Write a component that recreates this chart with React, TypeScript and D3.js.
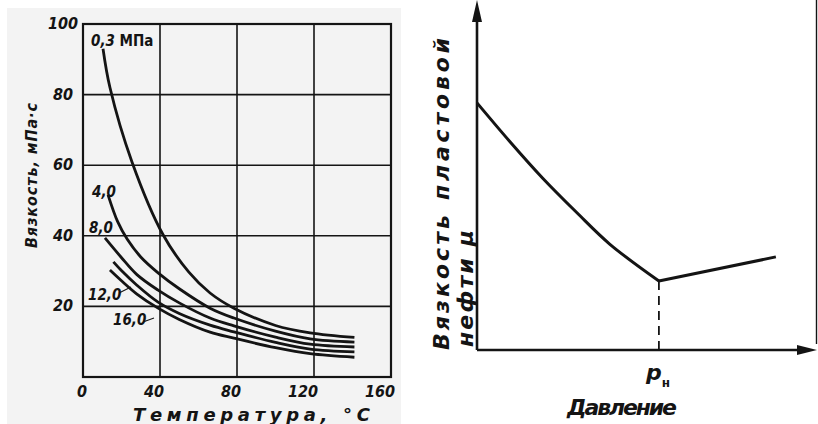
import React from 'react';
import * as d3 from 'd3';

// left chart: viscosity vs temperature at several pressures
const tempTicks = [0, 40, 80, 120, 160];
const viscTicks = [0, 20, 40, 60, 80, 100];

const t03 = [10.4, 14, 25.4, 41.6, 55, 66, 78.4, 100, 118, 141];
const v03 = [93, 82, 61, 40.3, 29.7, 23.8, 19.5, 14.6, 12.5, 11.2];
const t40 = [13, 18, 23, 30, 39, 50, 66, 78.4, 100, 118, 141];
const v40 = [51.6, 44, 39, 34, 29.5, 25, 19.5, 16.7, 13, 10.8, 9.9];
const t80 = [11.4, 19.7, 28, 39, 50, 66, 78.4, 100, 118, 141];
const v80 = [39.4, 34, 29, 24.6, 21, 16.7, 14.5, 11.3, 9.3, 8.5];
const t120 = [15.8, 19.7, 28, 39, 50, 66, 78.4, 100, 118, 141];
const v120 = [32.6, 30.3, 26, 21.2, 18, 14.7, 12.8, 9.8, 7.9, 7.1];
const t160 = [14, 19.7, 28, 39, 50, 66, 78.4, 100, 118, 141];
const v160 = [30.3, 27.4, 23.5, 19.5, 16.3, 12.7, 11, 8.3, 6.6, 5.6];

const series = [
  { name: '0,3', t: t03, v: v03 },
  { name: '4,0', t: t40, v: v40 },
  { name: '8,0', t: t80, v: v80 },
  { name: '12,0', t: t120, v: v120 },
  { name: '16,0', t: t160, v: v160 },
];

// right chart: schematic viscosity vs pressure
const pBelow = [0, 0.97, 1.94, 2.94, 3.91, 5.35];
const muBelow = [7.06, 5.95, 4.9, 3.92, 3.02, 1.97];
const pAbove = [5.35, 8.79];
const muAbove = [1.97, 2.66];
const pSat = 5.35;

const font = '"DejaVu Sans Condensed", "DejaVu Sans", sans-serif';
const wideFont = '"DejaVu Sans", sans-serif';
const ink = '#141414';

export default function App() {
  const x = d3.scaleLinear().domain([0, 160]).range([83, 391]);
  const y = d3.scaleLinear().domain([0, 100]).range([377, 24]);

  const line = d3.line<[number, number]>()
    .x(d => x(d[0]))
    .y(d => y(d[1]))
    .curve(d3.curveCatmullRom.alpha(0.5));

  const xR = d3.scaleLinear().domain([0, 10]).range([477, 817]);
  const yR = d3.scaleLinear().domain([0, 10]).range([350, 0]);
  const lineR = d3.line<[number, number]>()
    .x(d => xR(d[0]))
    .y(d => yR(d[1]))
    .curve(d3.curveCatmullRom.alpha(0.5));

  const lbl = { fontFamily: font, fontStyle: 'italic', fontWeight: 'bold', fill: ink } as const;
  const big = { ...lbl, fontFamily: wideFont };

  return (
    <svg width={818} height={424} style={{ position: 'absolute', left: 0, top: 0, background: '#fff' }}>
      <rect x={7} y={8} width={394} height={416} fill="#f3f3f3" />

      {/* grid */}
      {tempTicks.slice(1, -1).map(t => (
        <line key={'gx' + t} x1={x(t)} x2={x(t)} y1={y(0)} y2={y(100)} stroke={ink} strokeWidth={1.6} />
      ))}
      {viscTicks.slice(1, -1).map(v => (
        <line key={'gy' + v} x1={x(0)} x2={x(160)} y1={y(v)} y2={y(v)} stroke={ink} strokeWidth={1.6} />
      ))}
      <rect x={x(0)} y={y(100)} width={x(160) - x(0)} height={y(0) - y(100)} fill="none" stroke={ink} strokeWidth={2.2} />

      {/* ticks */}
      {tempTicks.map(t => (
        <text key={'tx' + t} x={x(t) + 4} y={397} textAnchor="end" fontSize={16} {...lbl}>{t}</text>
      ))}
      {viscTicks.slice(1).map(v => (
        <text key={'ty' + v} x={v === 100 ? 78 : 73} y={y(v) + 5} textAnchor="end" fontSize={16} {...lbl}>{v}</text>
      ))}

      {/* curves */}
      {series.map(s => (
        <path key={s.name} d={line(s.t.map((t, i) => [t, s.v[i]]))!} fill="none" stroke={ink} strokeWidth={2.8} />
      ))}

      {/* curve labels */}
      <text x={91} y={46} fontSize={15} {...lbl}>0,3 <tspan fontStyle="normal">МПа</tspan></text>
      <text x={92} y={197} fontSize={15} {...lbl}>4,0</text>
      <text x={89} y={233} fontSize={15} {...lbl}>8,0</text>
      <text x={88} y={300} fontSize={15} {...lbl}>12,0</text>
      <text x={113} y={325} fontSize={15} {...lbl}>16,0</text>
      <line x1={119} y1={293} x2={131} y2={287} stroke={ink} strokeWidth={1.2} />
      <line x1={143} y1={322} x2={154} y2={318} stroke={ink} strokeWidth={1.2} />

      {/* axis titles */}
      <text x={133} y={421} textLength={237} lengthAdjust="spacing" fontSize={18} {...big}>Температура, °С</text>
      <text transform="translate(37,248) rotate(-90)" textLength={145} lengthAdjust="spacing" fontSize={16} {...lbl}>Вязкость, мПа·с</text>

      {/* right chart axes */}
      <line x1={xR(0)} x2={xR(0)} y1={yR(0)} y2={18} stroke={ink} strokeWidth={2.6} />
      <polygon points={`${xR(0)},0 ${xR(0) - 5},22 ${xR(0) + 5},22`} fill={ink} />
      <line x1={xR(0)} x2={799} y1={yR(0)} y2={yR(0)} stroke={ink} strokeWidth={2.6} />
      <polygon points={`817,${yR(0)} 797,${yR(0) - 5} 797,${yR(0) + 5}`} fill={ink} />
      <line x1={816.5} x2={816.5} y1={0} y2={344} stroke={ink} strokeWidth={1.4} />

      <path d={lineR(pBelow.map((p, i) => [p, muBelow[i]]))!} fill="none" stroke={ink} strokeWidth={3} />
      <path d={lineR(pAbove.map((p, i) => [p, muAbove[i]]))!} fill="none" stroke={ink} strokeWidth={3} />
      <line x1={xR(pSat)} x2={xR(pSat)} y1={yR(muBelow[muBelow.length - 1])} y2={yR(0)} stroke={ink} strokeWidth={1.8} strokeDasharray="9,6" />

      <text x={646} y={380} fontSize={22} {...big}>p<tspan fontSize={12} fontStyle="normal" dy={7}>н</tspan></text>
      <text x={567} y={415} textLength={110} lengthAdjust="spacing" fontSize={22} {...big}>Давление</text>

      <text transform="translate(449,350) rotate(-90)" textLength={135} lengthAdjust="spacing" fontSize={22} {...big}>Вязкость</text>
      <text transform="translate(449,200) rotate(-90)" textLength={162} lengthAdjust="spacing" fontSize={22} {...big}>пластовой</text>
      <text transform="translate(473,347) rotate(-90)" textLength={117} lengthAdjust="spacing" fontSize={22} {...big}>нефти μ</text>
    </svg>
  );
}
